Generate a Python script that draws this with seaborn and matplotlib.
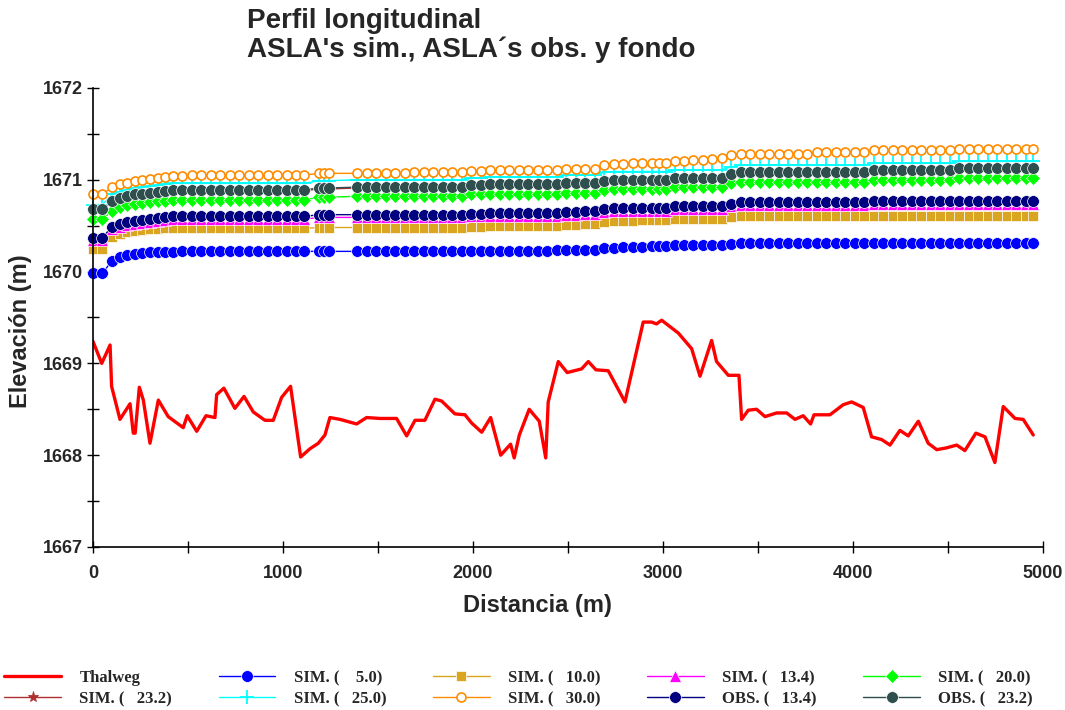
import matplotlib
matplotlib.use("Agg")
import matplotlib.pyplot as plt
import seaborn as sns
from matplotlib.ticker import MultipleLocator

# --- thalweg (bed profile) ---
thalweg_x = [0, 46, 90, 98, 142, 195, 212, 222, 244, 265, 300, 344, 396, 475, 496, 546, 595,
             642, 651, 689, 747, 795, 844, 905, 949, 993, 1040, 1093, 1142, 1186, 1221, 1247,
             1300, 1335, 1388, 1440, 1510, 1598, 1651, 1695, 1747, 1800, 1835, 1905, 1958,
             1993, 2046, 2093, 2146, 2198, 2217, 2244, 2296, 2349, 2383, 2396, 2449, 2496,
             2572, 2607, 2647, 2712, 2800, 2896, 2940, 2966, 2993, 3081, 3151, 3195, 3256,
             3282, 3344, 3400, 3414, 3449, 3493, 3537, 3598, 3651, 3695, 3738, 3777, 3795,
             3879, 3949, 3993, 4054, 4098, 4151, 4195, 4247, 4291, 4344, 4396, 4441, 4493,
             4546, 4589, 4647, 4695, 4747, 4791, 4853, 4896, 4949]
thalweg_z = [1669.24, 1669.00, 1669.20, 1668.75, 1668.39, 1668.56, 1668.24, 1668.24, 1668.74,
             1668.60, 1668.13, 1668.60, 1668.42, 1668.30, 1668.43, 1668.26, 1668.43, 1668.41,
             1668.66, 1668.73, 1668.51, 1668.64, 1668.47, 1668.38, 1668.38, 1668.63, 1668.75,
             1667.98, 1668.07, 1668.13, 1668.22, 1668.41, 1668.39, 1668.37, 1668.34, 1668.41,
             1668.40, 1668.40, 1668.21, 1668.38, 1668.38, 1668.61, 1668.59, 1668.45, 1668.44,
             1668.35, 1668.25, 1668.41, 1668.00, 1668.12, 1667.97, 1668.22, 1668.50, 1668.37,
             1667.97, 1668.58, 1669.02, 1668.90, 1668.94, 1669.02, 1668.93, 1668.92, 1668.58,
             1669.45, 1669.45, 1669.43, 1669.47, 1669.33, 1669.16, 1668.86, 1669.25, 1669.02,
             1668.87, 1668.87, 1668.39, 1668.49, 1668.50, 1668.42, 1668.46, 1668.46, 1668.39,
             1668.43, 1668.34, 1668.44, 1668.44, 1668.55, 1668.58, 1668.52, 1668.20, 1668.17,
             1668.11, 1668.27, 1668.21, 1668.37, 1668.13, 1668.06, 1668.08, 1668.11, 1668.05,
             1668.24, 1668.20, 1667.92, 1668.53, 1668.40, 1668.39, 1668.22]

# --- water surface stations (m) ---
stations = [0, 50,
            100, 140, 180, 220, 260, 300, 340, 380,
            420, 470, 520, 570, 620, 670, 720, 770, 820, 870, 920, 970, 1020, 1070, 1110,
            1190, 1215, 1240,
            1390, 1440, 1490, 1540, 1590, 1640, 1690, 1740, 1790, 1840, 1890, 1940,
            1990, 2040, 2090, 2140, 2190, 2240, 2290, 2340, 2390, 2440, 2490, 2540, 2590, 2640,
            2690, 2740, 2790, 2840, 2890, 2940, 2980, 3015,
            3065, 3110, 3160, 3210, 3260, 3310,
            3360, 3410, 3460, 3510, 3560, 3610, 3660, 3710, 3760, 3810, 3860, 3910, 3960, 4010, 4060,
            4110, 4160, 4210, 4260, 4310, 4360, 4410, 4460, 4510, 4560, 4610, 4660, 4710, 4760,
            4810, 4860, 4910, 4950]

sim_05 = [1669.98, 1669.98,
          1670.12, 1670.16, 1670.18, 1670.19, 1670.20, 1670.21, 1670.21, 1670.21,
          1670.21, 1670.22, 1670.22, 1670.22, 1670.22, 1670.22, 1670.22, 1670.22, 1670.22, 1670.22,
          1670.22, 1670.22, 1670.22, 1670.22, 1670.22,
          1670.22, 1670.22, 1670.22,
          1670.22, 1670.22, 1670.22, 1670.22, 1670.22, 1670.22, 1670.22, 1670.22, 1670.22, 1670.22,
          1670.22, 1670.22,
          1670.22, 1670.22, 1670.22, 1670.22, 1670.22, 1670.22, 1670.22, 1670.22, 1670.22, 1670.23,
          1670.23, 1670.23, 1670.24, 1670.24,
          1670.26, 1670.26, 1670.27, 1670.27, 1670.27, 1670.28, 1670.28, 1670.28,
          1670.29, 1670.29, 1670.29, 1670.29, 1670.29, 1670.29,
          1670.30, 1670.31, 1670.31, 1670.31, 1670.31, 1670.31, 1670.31, 1670.31, 1670.31, 1670.31,
          1670.31, 1670.31, 1670.31, 1670.31, 1670.31,
          1670.31, 1670.31, 1670.31, 1670.31, 1670.31, 1670.31, 1670.31, 1670.31, 1670.31, 1670.31,
          1670.31, 1670.31, 1670.31, 1670.31, 1670.31, 1670.31, 1670.31, 1670.31]

sim_10 = [1670.25, 1670.25,
          1670.38, 1670.41, 1670.43, 1670.44, 1670.45, 1670.46, 1670.46, 1670.47,
          1670.47, 1670.47, 1670.47, 1670.47, 1670.47, 1670.47, 1670.47, 1670.47, 1670.47, 1670.47,
          1670.47, 1670.47, 1670.47, 1670.47, 1670.47,
          1670.48, 1670.48, 1670.48,
          1670.48, 1670.48, 1670.48, 1670.48, 1670.48, 1670.48, 1670.48, 1670.48, 1670.48, 1670.48,
          1670.48, 1670.48,
          1670.49, 1670.49, 1670.50, 1670.50, 1670.50, 1670.50, 1670.50, 1670.50, 1670.50, 1670.50,
          1670.51, 1670.51, 1670.52, 1670.52,
          1670.54, 1670.55, 1670.55, 1670.55, 1670.56, 1670.56, 1670.56, 1670.56,
          1670.57, 1670.57, 1670.57, 1670.57, 1670.57, 1670.57,
          1670.59, 1670.60, 1670.60, 1670.60, 1670.60, 1670.60, 1670.60, 1670.60, 1670.60, 1670.60,
          1670.60, 1670.60, 1670.60, 1670.60, 1670.60,
          1670.61, 1670.61, 1670.61, 1670.61, 1670.61, 1670.61, 1670.61, 1670.61, 1670.61, 1670.61,
          1670.61, 1670.61, 1670.61, 1670.61, 1670.61, 1670.61, 1670.61, 1670.61]

sim_134 = [1670.34, 1670.34,
           1670.46, 1670.49, 1670.51, 1670.52, 1670.53, 1670.54, 1670.55, 1670.56,
           1670.57, 1670.57, 1670.57, 1670.57, 1670.57, 1670.57, 1670.57, 1670.57, 1670.57, 1670.57,
           1670.57, 1670.57, 1670.57, 1670.57, 1670.57,
           1670.59, 1670.59, 1670.59,
           1670.59, 1670.59, 1670.59, 1670.59, 1670.59, 1670.59, 1670.59, 1670.59, 1670.59, 1670.59,
           1670.59, 1670.59,
           1670.60, 1670.60, 1670.61, 1670.61, 1670.61, 1670.61, 1670.61, 1670.61, 1670.61, 1670.61,
           1670.62, 1670.62, 1670.63, 1670.63,
           1670.65, 1670.66, 1670.66, 1670.66, 1670.66, 1670.66, 1670.66, 1670.66,
           1670.68, 1670.68, 1670.68, 1670.68, 1670.68, 1670.68,
           1670.71, 1670.73, 1670.73, 1670.73, 1670.73, 1670.73, 1670.73, 1670.73, 1670.73, 1670.73,
           1670.73, 1670.73, 1670.73, 1670.73, 1670.73,
           1670.74, 1670.74, 1670.74, 1670.74, 1670.74, 1670.74, 1670.74, 1670.74, 1670.74, 1670.74,
           1670.74, 1670.74, 1670.74, 1670.74, 1670.74, 1670.74, 1670.74, 1670.74]

sim_20 = [1670.57, 1670.57,
          1670.66, 1670.70, 1670.72, 1670.74, 1670.75, 1670.76, 1670.77, 1670.77,
          1670.78, 1670.78, 1670.78, 1670.78, 1670.78, 1670.78, 1670.78, 1670.78, 1670.78, 1670.78,
          1670.78, 1670.78, 1670.78, 1670.78, 1670.78,
          1670.81, 1670.81, 1670.81,
          1670.82, 1670.82, 1670.82, 1670.82, 1670.82, 1670.82, 1670.82, 1670.82, 1670.82, 1670.82,
          1670.82, 1670.82,
          1670.84, 1670.84, 1670.85, 1670.85, 1670.85, 1670.85, 1670.85, 1670.85, 1670.85, 1670.85,
          1670.86, 1670.86, 1670.86, 1670.86,
          1670.89, 1670.90, 1670.90, 1670.90, 1670.90, 1670.90, 1670.90, 1670.90,
          1670.92, 1670.92, 1670.92, 1670.92, 1670.92, 1670.92,
          1670.96, 1670.98, 1670.98, 1670.98, 1670.98, 1670.98, 1670.98, 1670.98, 1670.98, 1670.98,
          1670.98, 1670.98, 1670.98, 1670.98, 1670.98,
          1671.00, 1671.00, 1671.00, 1671.00, 1671.00, 1671.00, 1671.00, 1671.00, 1671.00, 1671.02,
          1671.02, 1671.02, 1671.02, 1671.02, 1671.02, 1671.02, 1671.02, 1671.02]

sim_232 = [1670.67, 1670.67,
           1670.76, 1670.79, 1670.81, 1670.83, 1670.84, 1670.85, 1670.86, 1670.87,
           1670.88, 1670.88, 1670.88, 1670.88, 1670.88, 1670.88, 1670.88, 1670.88, 1670.88, 1670.88,
           1670.88, 1670.88, 1670.88, 1670.88, 1670.88,
           1670.90, 1670.90, 1670.90,
           1670.91, 1670.91, 1670.91, 1670.91, 1670.91, 1670.91, 1670.91, 1670.91, 1670.91, 1670.91,
           1670.91, 1670.91,
           1670.93, 1670.93, 1670.94, 1670.94, 1670.94, 1670.94, 1670.94, 1670.94, 1670.94, 1670.94,
           1670.95, 1670.95, 1670.95, 1670.95,
           1670.98, 1670.99, 1670.99, 1670.99, 1670.99, 1670.99, 1670.99, 1670.99,
           1671.01, 1671.01, 1671.01, 1671.01, 1671.01, 1671.01,
           1671.05, 1671.07, 1671.07, 1671.07, 1671.07, 1671.07, 1671.07, 1671.07, 1671.07, 1671.07,
           1671.07, 1671.07, 1671.07, 1671.07, 1671.07,
           1671.10, 1671.10, 1671.10, 1671.10, 1671.10, 1671.10, 1671.10, 1671.10, 1671.10, 1671.12,
           1671.12, 1671.12, 1671.12, 1671.12, 1671.12, 1671.12, 1671.12, 1671.12]

sim_25 = [1670.73, 1670.73,
          1670.84, 1670.87, 1670.89, 1670.91, 1670.92, 1670.93, 1670.94, 1670.95,
          1670.96, 1670.96, 1670.96, 1670.96, 1670.96, 1670.96, 1670.96, 1670.96, 1670.96, 1670.96,
          1670.96, 1670.96, 1670.96, 1670.96, 1670.96,
          1670.99, 1670.99, 1670.99,
          1671.00, 1671.00, 1671.00, 1671.00, 1671.00, 1671.00, 1671.00, 1671.00, 1671.00, 1671.00,
          1671.00, 1671.00,
          1671.02, 1671.02, 1671.03, 1671.03, 1671.03, 1671.03, 1671.03, 1671.03, 1671.03, 1671.03,
          1671.05, 1671.05, 1671.05, 1671.05,
          1671.08, 1671.09, 1671.09, 1671.09, 1671.09, 1671.09, 1671.09, 1671.09,
          1671.11, 1671.11, 1671.11, 1671.11, 1671.11, 1671.11,
          1671.14, 1671.16, 1671.16, 1671.16, 1671.16, 1671.16, 1671.16, 1671.16, 1671.16, 1671.16,
          1671.16, 1671.16, 1671.16, 1671.16, 1671.16,
          1671.18, 1671.18, 1671.18, 1671.18, 1671.18, 1671.18, 1671.18, 1671.18, 1671.18, 1671.20,
          1671.20, 1671.20, 1671.20, 1671.20, 1671.20, 1671.20, 1671.20, 1671.20]

sim_30 = [1670.84, 1670.84,
          1670.92, 1670.95, 1670.97, 1670.99, 1671.00, 1671.01, 1671.02, 1671.03,
          1671.04, 1671.04, 1671.05, 1671.05, 1671.05, 1671.05, 1671.05, 1671.05, 1671.05, 1671.05,
          1671.05, 1671.05, 1671.05, 1671.05, 1671.05,
          1671.07, 1671.07, 1671.07,
          1671.07, 1671.07, 1671.07, 1671.07, 1671.07, 1671.07, 1671.08, 1671.08, 1671.08, 1671.08,
          1671.08, 1671.08,
          1671.10, 1671.10, 1671.11, 1671.11, 1671.11, 1671.11, 1671.11, 1671.11, 1671.11, 1671.11,
          1671.12, 1671.12, 1671.12, 1671.12,
          1671.16, 1671.17, 1671.17, 1671.18, 1671.18, 1671.18, 1671.18, 1671.18,
          1671.20, 1671.20, 1671.21, 1671.22, 1671.23, 1671.24,
          1671.27, 1671.28, 1671.28, 1671.28, 1671.28, 1671.28, 1671.28, 1671.28, 1671.28, 1671.30,
          1671.30, 1671.30, 1671.30, 1671.30, 1671.30,
          1671.32, 1671.32, 1671.32, 1671.32, 1671.32, 1671.32, 1671.32, 1671.32, 1671.32, 1671.34,
          1671.34, 1671.34, 1671.34, 1671.34, 1671.34, 1671.34, 1671.34, 1671.34]

obs_134 = [1670.37, 1670.37,
           1670.49, 1670.52, 1670.54, 1670.55, 1670.56, 1670.57, 1670.58, 1670.59,
           1670.60, 1670.60, 1670.60, 1670.60, 1670.60, 1670.60, 1670.60, 1670.60, 1670.60, 1670.60,
           1670.60, 1670.60, 1670.60, 1670.60, 1670.60,
           1670.62, 1670.62, 1670.62,
           1670.62, 1670.62, 1670.62, 1670.62, 1670.62, 1670.62, 1670.62, 1670.62, 1670.62, 1670.62,
           1670.62, 1670.62,
           1670.63, 1670.63, 1670.64, 1670.64, 1670.64, 1670.64, 1670.64, 1670.64, 1670.64, 1670.64,
           1670.65, 1670.65, 1670.66, 1670.66,
           1670.68, 1670.69, 1670.69, 1670.69, 1670.69, 1670.69, 1670.69, 1670.69,
           1670.71, 1670.71, 1670.71, 1670.71, 1670.71, 1670.71,
           1670.74, 1670.76, 1670.76, 1670.76, 1670.76, 1670.76, 1670.76, 1670.76, 1670.76, 1670.76,
           1670.76, 1670.76, 1670.76, 1670.76, 1670.76,
           1670.77, 1670.77, 1670.77, 1670.77, 1670.77, 1670.77, 1670.77, 1670.77, 1670.77, 1670.77,
           1670.77, 1670.77, 1670.77, 1670.77, 1670.77, 1670.77, 1670.77, 1670.77]

obs_232 = [1670.68, 1670.68,
           1670.77, 1670.80, 1670.82, 1670.84, 1670.85, 1670.86, 1670.87, 1670.88,
           1670.89, 1670.89, 1670.89, 1670.89, 1670.89, 1670.89, 1670.89, 1670.89, 1670.89, 1670.89,
           1670.89, 1670.89, 1670.89, 1670.89, 1670.89,
           1670.91, 1670.91, 1670.91,
           1670.92, 1670.92, 1670.92, 1670.92, 1670.92, 1670.92, 1670.92, 1670.92, 1670.92, 1670.92,
           1670.92, 1670.92,
           1670.94, 1670.94, 1670.95, 1670.95, 1670.95, 1670.95, 1670.95, 1670.95, 1670.95, 1670.95,
           1670.96, 1670.96, 1670.96, 1670.96,
           1670.99, 1671.00, 1671.00, 1671.00, 1671.00, 1671.00, 1671.00, 1671.00,
           1671.02, 1671.02, 1671.02, 1671.02, 1671.02, 1671.02,
           1671.06, 1671.08, 1671.08, 1671.08, 1671.08, 1671.08, 1671.08, 1671.08, 1671.08, 1671.08,
           1671.08, 1671.08, 1671.08, 1671.08, 1671.08,
           1671.11, 1671.11, 1671.11, 1671.11, 1671.11, 1671.11, 1671.11, 1671.11, 1671.11, 1671.13,
           1671.13, 1671.13, 1671.13, 1671.13, 1671.13, 1671.13, 1671.13, 1671.13]

labels = ["Thalweg", "SIM. (    5.0)", "SIM. (   10.0)", "SIM. (   13.4)", "SIM. (   20.0)",
          "SIM. (   23.2)", "SIM. (   25.0)", "SIM. (   30.0)", "OBS. (   13.4)", "OBS. (   23.2)"]

sns.set_style("ticks")
plt.rcParams["font.family"] = ["Liberation Sans", "DejaVu Sans"]

fig = plt.figure(figsize=(10.65, 7.1), dpi=100)
ax = fig.add_axes([0.0873, 0.2296, 0.892, 0.6465])

# style per series: (values, color, marker, size, face, edge, edge width)
series = [
    (sim_05, "#0000FF", "o", 8.5, "#0000FF", "white", 0.5),
    (sim_10, "#DAA520", "s", 7.5, "#DAA520", "white", 0.5),
    (sim_134, "#FF00FF", "^", 8, "#FF00FF", "white", 0.5),
    (sim_20, "#00FF00", "D", 7.5, "#00FF00", "white", 0.5),
    (sim_232, "#B03030", "*", 8, "#B03030", "#B03030", 0.6),
    (sim_25, "#00FFFF", "+", 10, "#00FFFF", "#00FFFF", 1.3),
    (sim_30, "#FF8C00", "o", 6.5, "white", "#FF8C00", 1.2),
    (obs_134, "#000080", "o", 8.5, "#000080", "white", 0.5),
    (obs_232, "#2F4F4F", "o", 8.5, "#2F4F4F", "white", 0.5),
]

sns.lineplot(x=thalweg_x, y=thalweg_z, ax=ax, color="#FF0000", lw=2.4,
             label=labels[0], estimator=None, sort=False)
for (vals, col, mk, ms, fc, ec, mew), lab in zip(series, labels[1:]):
    sns.lineplot(x=stations, y=vals, ax=ax, color=col, lw=1.0, marker=mk, markersize=ms,
                 markerfacecolor=fc, markeredgecolor=ec, markeredgewidth=mew,
                 label=lab, estimator=None, sort=False, clip_on=False)

ax.set_xlim(0, 5000)
ax.set_ylim(1667, 1672)
ax.xaxis.set_major_locator(MultipleLocator(1000))
ax.xaxis.set_minor_locator(MultipleLocator(500))
ax.yaxis.set_major_locator(MultipleLocator(1))
ax.yaxis.set_minor_locator(MultipleLocator(0.5))
ax.tick_params(which="both", direction="inout", length=8, width=1, color="black")
sns.despine(ax=ax)
for s in ["left", "bottom"]:
    ax.spines[s].set_linewidth(1.2)
    ax.spines[s].set_color("black")

for t in ax.get_xticklabels() + ax.get_yticklabels():
    t.set_fontweight("bold")
    t.set_fontsize(13)
ax.tick_params(axis="x", pad=9)
ax.tick_params(axis="y", pad=3)

ax.set_xlabel("Distancia (m)", fontsize=17, fontweight="bold")
ax.set_ylabel("Elevación (m)", fontsize=17, fontweight="bold")
ax.xaxis.set_label_coords(0.468, -0.103)
ax.yaxis.set_label_coords(-0.064, 0.47)

fig.text(247 / 1065, 1 - 8 / 710, "Perfil longitudinal\nASLA's sim., ASLA´s obs. y fondo",
         ha="left", va="top", fontsize=20, fontweight="bold", linespacing=1.12)

# legend: two rows, row-wise order as in the original
handles, labs = ax.get_legend_handles_labels()
ax.get_legend().remove()
order = [0, 5, 1, 6, 2, 7, 3, 8, 4, 9]
fig.legend([handles[i] for i in order], [labs[i] for i in order], ncol=5,
           loc="upper left", bbox_to_anchor=(0.004, 1 - 670 / 710), frameon=False,
           prop={"family": ["Liberation Serif"], "weight": "bold", "size": 12},
           handlelength=3.4, handletextpad=1.1, columnspacing=2.8, labelspacing=0.3,
           borderpad=0, borderaxespad=0, numpoints=1)

fig.savefig("out.png", dpi=100)
